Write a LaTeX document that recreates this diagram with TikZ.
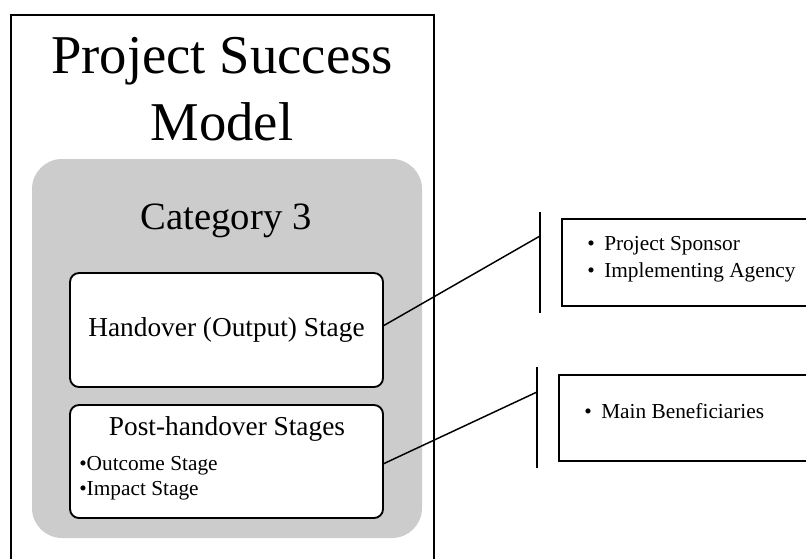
\documentclass[tikz,border=0pt]{standalone}
\usepackage{fontspec}
\setmainfont{Liberation Serif}
\newdimen\px \px=0.75pt
\definecolor{catgrey}{HTML}{CCCCCC}
\begin{document}
\begin{tikzpicture}[x=0.75pt,y=-0.75pt,
  frameline/.style={draw=black, line width=0.8pt},
  catbox/.style={fill=catgrey, rounded corners=30\px},
  stagebox/.style={draw=black, line width=1.4pt, fill=white, rounded corners=9\px,
    minimum width=313\px, inner sep=0pt, outer sep=0pt},
  listbox/.style={draw=black, line width=1.4pt},
  connector/.style={draw=black, line width=1.1pt},
  bar/.style={draw=black, line width=1.2pt},
  titletext/.style={font=\fontsize{41}{50}\selectfont, anchor=base, inner sep=0pt},
  cattext/.style={font=\fontsize{29}{34}\selectfont, anchor=base, inner sep=0pt},
  stagetext/.style={font=\fontsize{20.5}{24}\selectfont},
  smalltext/.style={font=\fontsize{16}{19}\selectfont, anchor=base west, inner sep=0pt}
]
\useasboundingbox (0,0) rectangle (806,558);

% outer frame (bottom cut off)
\draw[frameline] (11,560) -- (11,15) -- (434,15) -- (434,560);

% title
\node[titletext] (t1) at (222,73) {Project Success};
\node[titletext] (t2) at (222,140) {Model};

% category background
\fill[catbox] (32,159) rectangle (422,538);
\node[cattext] (cat) at (226,229) {Category 3};

% stage boxes
\node[stagebox, stagetext, minimum height=114\px] (hand) at (226.5,330) {Handover (Output) Stage};
\node[stagebox, minimum height=113\px] (post) at (226.5,461.5) {};
\node[stagetext, anchor=base, inner sep=0pt] (posttitle) at (227,435) {Post-handover Stages};
\node[smalltext] (out) at (79,470) {\textbullet Outcome Stage};
\node[smalltext] (imp) at (79,495) {\textbullet Impact Stage};

% right side bars
\coordinate (b1t) at (540,212);
\coordinate (b1b) at (540,313);
\coordinate (b1m) at (540,236);
\coordinate (b2t) at (537,367);
\coordinate (b2b) at (537,468);
\coordinate (b2m) at (537,392);
\draw[bar] (b1t) -- (b1b);
\draw[bar] (b2t) -- (b2b);

% connectors
\draw[connector] (hand.east) ++(0,-4) -- (b1m);
\draw[connector] (post.east) ++(0,2.5) -- (b2m);

% right boxes (right edge outside picture)
\draw[listbox] (810,219) -- (562,219) -- (562,306) -- (810,306);
\draw[listbox] (810,375) -- (559,375) -- (559,461) -- (810,461);

\node[smalltext] (r1) at (587,250) {\makebox[17\px][l]{\textbullet}Project Sponsor};
\node[smalltext] (r2) at (587,277) {\makebox[17\px][l]{\textbullet}Implementing Agency};
\node[smalltext] (r3) at (584,418) {\makebox[17\px][l]{\textbullet}Main Beneficiaries};
\end{tikzpicture}
\end{document}
